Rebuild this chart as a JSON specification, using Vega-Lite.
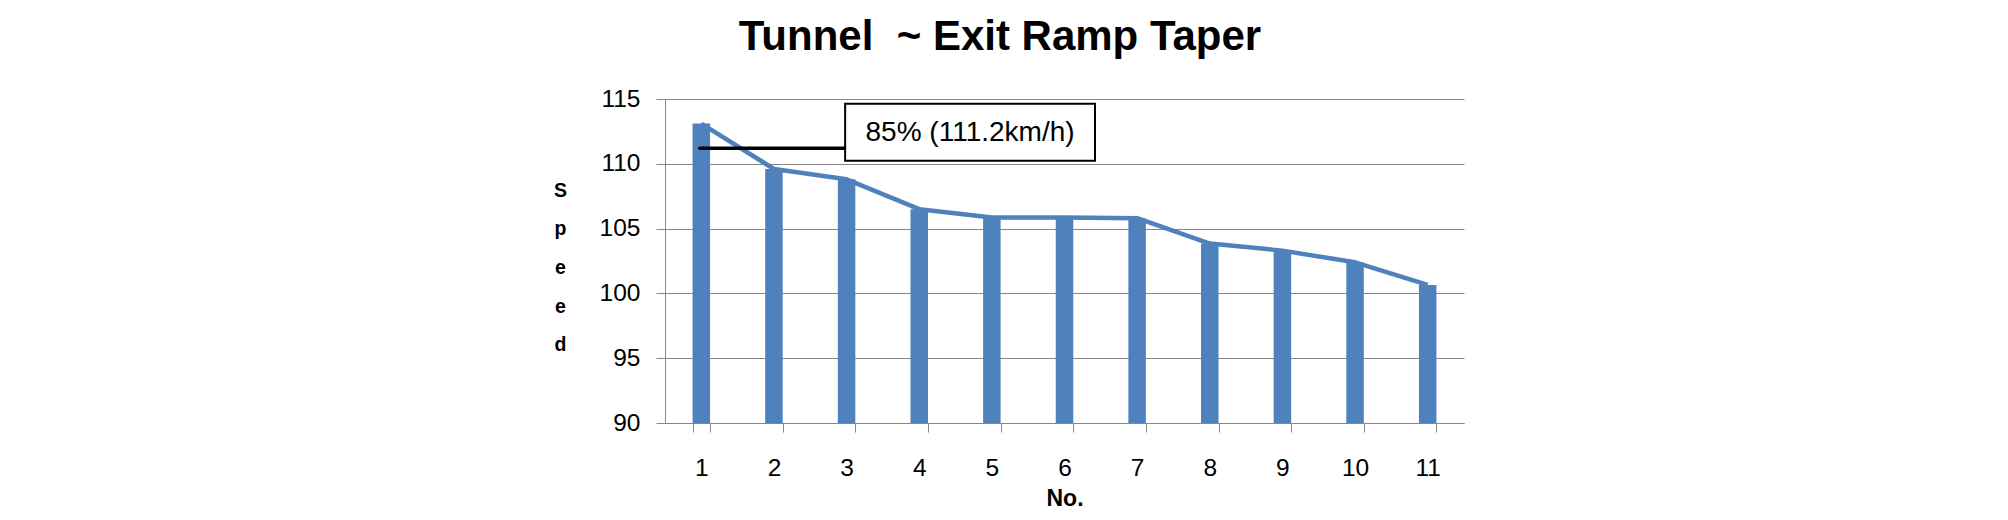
{
  "$schema": "https://vega.github.io/schema/vega-lite/v6.json",
  "width": 799,
  "height": 324,
  "autosize": {"type": "none"},
  "padding": {"left": 665, "top": 99, "right": 544, "bottom": 97},
  "background": "white",
  "title": {
    "text": "Tunnel\u00a0 ~ Exit Ramp Taper",
    "font": "Liberation Sans",
    "fontSize": 42,
    "fontWeight": "bold",
    "color": "#000000",
    "anchor": "middle",
    "dx": -64.5,
    "offset": 27
  },
  "config": {
    "view": {"stroke": null},
    "axis": {"labelFont": "Liberation Sans", "titleFont": "Liberation Sans", "labelColor": "#000000", "titleColor": "#000000"}
  },
  "datasets": {
    "speeds": [
      {"no": 1, "speed": 113.1},
      {"no": 2, "speed": 109.6},
      {"no": 3, "speed": 108.8},
      {"no": 4, "speed": 106.5},
      {"no": 5, "speed": 105.85},
      {"no": 6, "speed": 105.85},
      {"no": 7, "speed": 105.8},
      {"no": 8, "speed": 103.85},
      {"no": 9, "speed": 103.3},
      {"no": 10, "speed": 102.4},
      {"no": 11, "speed": 100.65}
    ],
    "callout_line": [{"from": 0.98, "to": 2.98, "level": 111.2}],
    "callout_box": [{"left": 2.98, "right": 6.42, "top": 114.64, "bottom": 110.23}],
    "callout_text": [{"cx": 4.7, "cy": 112.4, "label": "85% (111.2km/h)"}]
  },
  "resolve": {"scale": {"x": "independent"}},
  "layer": [
    {
      "data": {"name": "speeds"},
      "mark": {"type": "bar", "color": "#4F81BD"},
      "encoding": {
        "x": {
          "field": "no",
          "type": "ordinal",
          "scale": {"paddingInner": 0.759, "paddingOuter": 0.3795},
          "axis": {
            "labelAngle": 0,
            "tickBand": "extent",
            "labelFontSize": 24.5,
            "labelPadding": 24,
            "tickSize": 9,
            "tickColor": "#878787",
            "domainColor": "#878787",
            "grid": false,
            "title": "No.",
            "titleFontSize": 23,
            "titleFontWeight": "bold",
            "titlePadding": 8
          }
        },
        "y": {
          "field": "speed",
          "type": "quantitative",
          "scale": {"domain": [90, 115], "nice": false, "zero": false},
          "axis": {
            "values": [90, 95, 100, 105, 110, 115],
            "grid": true,
            "gridColor": "#878787",
            "gridWidth": 1,
            "domainColor": "#878787",
            "tickColor": "#878787",
            "tickSize": 9,
            "labelFontSize": 24.5,
            "labelPadding": 16,
            "title": ["S", "p", "e", "e", "d"],
            "titleAngle": 0,
            "titleAlign": "center",
            "titleBaseline": "middle",
            "titleX": -105,
            "titleY": 91,
            "titleFontSize": 19.5,
            "titleFontWeight": "bold",
            "titleLineHeight": 38.7
          }
        },
        "y2": {"datum": 90}
      }
    },
    {
      "data": {"name": "speeds"},
      "mark": {"type": "line", "color": "#4F81BD", "strokeWidth": 4.5, "strokeJoin": "round"},
      "encoding": {
        "x": {"field": "no", "type": "quantitative", "scale": {"domain": [0.5, 11.5], "nice": false, "zero": false}, "axis": null},
        "y": {"field": "speed", "type": "quantitative"}
      }
    },
    {
      "data": {"name": "callout_line"},
      "mark": {"type": "rule", "color": "#000000", "strokeWidth": 3.5, "strokeCap": "round"},
      "encoding": {
        "x": {"field": "from", "type": "quantitative", "scale": {"domain": [0.5, 11.5], "nice": false, "zero": false}, "axis": null},
        "x2": {"field": "to"},
        "y": {"field": "level", "type": "quantitative"}
      }
    },
    {
      "data": {"name": "callout_box"},
      "mark": {"type": "rect", "fill": "#ffffff", "stroke": "#000000", "strokeWidth": 2},
      "encoding": {
        "x": {"field": "left", "type": "quantitative", "scale": {"domain": [0.5, 11.5], "nice": false, "zero": false}, "axis": null},
        "x2": {"field": "right"},
        "y": {"field": "top", "type": "quantitative"},
        "y2": {"field": "bottom"}
      }
    },
    {
      "data": {"name": "callout_text"},
      "mark": {"type": "text", "font": "Liberation Sans", "fontSize": 28, "color": "#000000", "align": "center", "baseline": "middle"},
      "encoding": {
        "x": {"field": "cx", "type": "quantitative", "scale": {"domain": [0.5, 11.5], "nice": false, "zero": false}, "axis": null},
        "y": {"field": "cy", "type": "quantitative"},
        "text": {"field": "label"}
      }
    }
  ]
}
